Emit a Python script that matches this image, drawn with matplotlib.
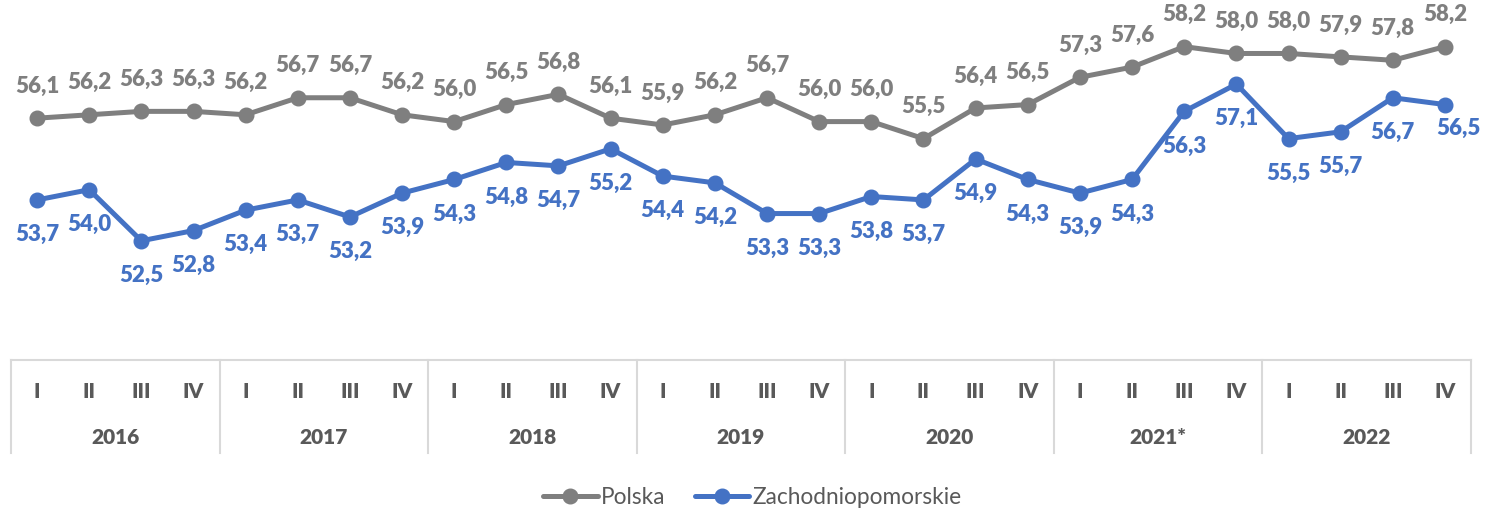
import matplotlib
matplotlib.use("Agg")
import matplotlib.pyplot as plt
import matplotlib.transforms as mtransforms

plt.rcParams['font.family'] = ['Lato', 'DejaVu Sans']

years = ["2016", "2017", "2018", "2019", "2020", "2021*", "2022"]
quarters = ["I", "II", "III", "IV"]
polska = [56.1, 56.2, 56.3, 56.3, 56.2, 56.7, 56.7, 56.2, 56.0, 56.5, 56.8, 56.1,
          55.9, 56.2, 56.7, 56.0, 56.0, 55.5, 56.4, 56.5, 57.3, 57.6, 58.2, 58.0,
          58.0, 57.9, 57.8, 58.2]
zachodniopomorskie = [53.7, 54.0, 52.5, 52.8, 53.4, 53.7, 53.2, 53.9, 54.3, 54.8, 54.7, 55.2,
                      54.4, 54.2, 53.3, 53.3, 53.8, 53.7, 54.9, 54.3, 53.9, 54.3, 56.3, 57.1,
                      55.5, 55.7, 56.7, 56.5]
series_names = ["Polska", "Zachodniopomorskie"]

W, H = 1490, 509
fig = plt.figure(figsize=(W / 100, H / 100), dpi=100)
ax = fig.add_axes([11 / W, (H - 360) / H, 1460 / W, 360 / H])
ax.set_xlim(-0.5, 27.5)
ax.set_ylim(49.0, 59.57)
ax.axis('off')

GRAY = '#7F7F7F'
BLUE = '#4472C4'
TXT = '#595959'
GRID = '#D9D9D9'

n = len(polska)
x = list(range(n))
lp, = ax.plot(x, polska, color=GRAY, lw=3.6, marker='o', ms=10.5, solid_capstyle='round', zorder=3)
lz, = ax.plot(x, zachodniopomorskie, color=BLUE, lw=3.6, marker='o', ms=10.5, solid_capstyle='round', zorder=3)

fs = 16
for i, v in enumerate(polska):
    ax.annotate(f"{v:.1f}".replace('.', ','), (i, v), xytext=(0, 23), textcoords='offset points',
                ha='center', va='center', color=GRAY, fontsize=fs, fontweight='heavy')
for i, v in enumerate(zachodniopomorskie):
    dx, dy = 0, -25
    if i == n - 1:
        dx, dy = 10, -17
    ax.annotate(f"{v:.1f}".replace('.', ','), (i, v), xytext=(dx, dy), textcoords='offset points',
                ha='center', va='center', color=BLUE, fontsize=fs, fontweight='heavy')

# category table below plot
trans = mtransforms.blended_transform_factory(ax.transData, fig.transFigure)
y_top = (H - 360) / H
y_bot = (H - 453) / H
ax.plot([-0.5, 27.5], [y_top, y_top], transform=trans, color=GRID, lw=1.5, clip_on=False)
for k in range(len(years) + 1):
    xv = -0.5 + 4 * k
    ax.plot([xv, xv], [y_top, y_bot], transform=trans, color=GRID, lw=1.5, clip_on=False)
for i in range(n):
    ax.text(i, (H - 391) / H, quarters[i % 4], transform=trans, ha='center', va='center',
            color=TXT, fontsize=15, fontweight='heavy')
for k, yr in enumerate(years):
    ax.text(4 * k + 1.5, (H - 438) / H, yr, transform=trans, ha='center', va='center',
            color=TXT, fontsize=15, fontweight='heavy')

leg = fig.legend([lp, lz], series_names, loc='center', bbox_to_anchor=(0.505, (H - 497) / H),
                 ncol=2, frameon=False, fontsize=16.3, handlelength=2.4, handletextpad=0.15,
                 columnspacing=1.3, labelcolor=TXT)
for h in leg.legend_handles:
    h.set_markersize(10.5)

fig.savefig("out.png", dpi=100)
